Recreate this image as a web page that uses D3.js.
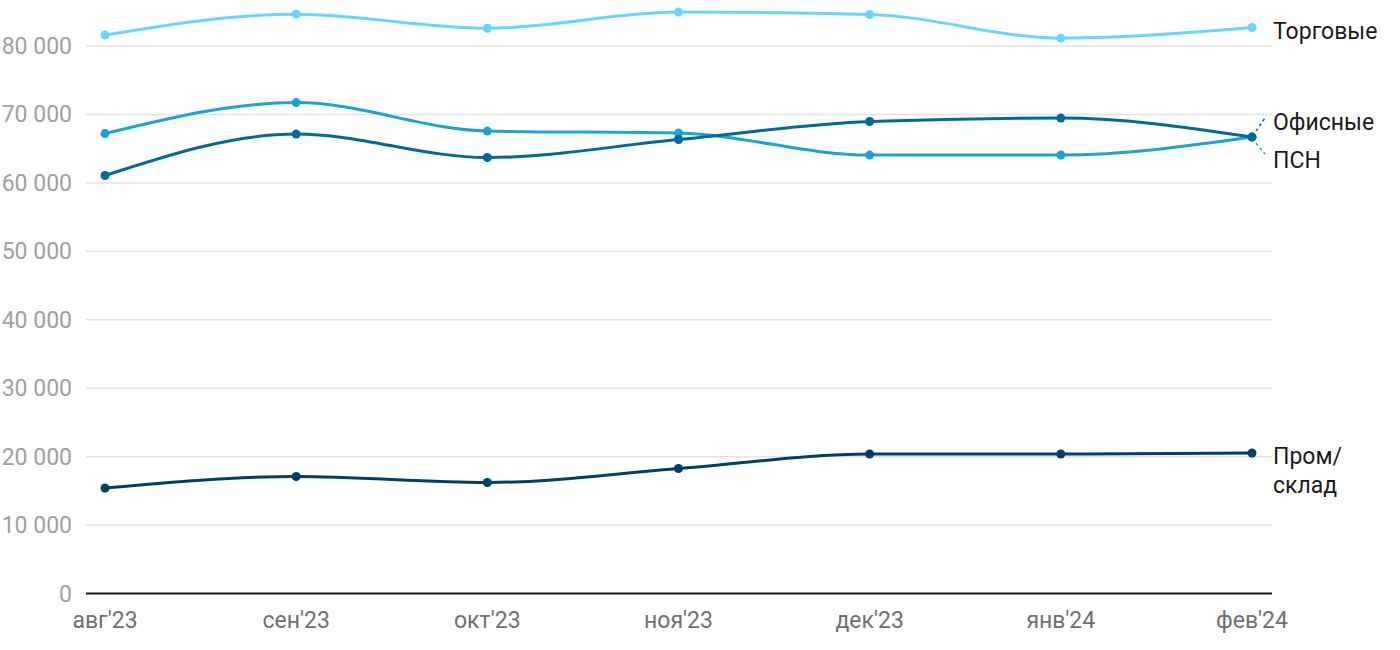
<!DOCTYPE html>
<html><head><meta charset="utf-8">
<script src="https://cdn.jsdelivr.net/npm/d3@7"></script>
<style>body{margin:0;background:#fff;font-family:Roboto,"Noto Sans",sans-serif;}</style>
</head><body><svg id="c" width="1400" height="650"></svg>
<script>
const months = ["авг'23","сен'23","окт'23","ноя'23","дек'23","янв'24","фев'24"];
const torgovye = [81600,84650,82600,84950,84600,81150,82700];
const psn      = [67200,71730,67570,67270,64060,64060,66690];
const ofisnye  = [61070,67130,63700,66330,68960,69470,66690];
const prom     = [15410,17090,16220,18260,20380,20380,20530];
const yTicks = [0,10000,20000,30000,40000,50000,60000,70000,80000];

const series = [
  {name:"Торговые", values:torgovye, color:"#68d5ff"},
  {name:"ПСН", values:psn, color:"#1ba4d0"},
  {name:"Офисные", values:ofisnye, color:"#006b98"},
  {name:"Пром/склад", values:prom, color:"#003f66"}
];

const svg = d3.select("#c");
const x = d3.scalePoint().domain(months).range([105,1252]);
const y = d3.scaleLinear().domain([0,80000]).range([593.5,46]);
const gridL = 86, gridR = 1272;

svg.append("g").selectAll("line").data(yTicks.filter(d=>d>0)).join("line")
  .attr("x1",gridL).attr("x2",gridR).attr("y1",d=>y(d)).attr("y2",d=>y(d))
  .attr("stroke","#e3e3e3").attr("stroke-width",1.5);
const fmt = d => d===0 ? "0" : d3.format(",")(d).replace(/,/g," ");
svg.append("g").selectAll("text").data(yTicks).join("text")
  .attr("x",72).attr("y",d=>y(d)+8).attr("text-anchor","end")
  .attr("fill","#a0a0a0").attr("font-size",23).text(fmt);
svg.append("line").attr("x1",gridL).attr("x2",gridR).attr("y1",y(0)).attr("y2",y(0))
  .attr("stroke","#1a1a1a").attr("stroke-width",2);
svg.append("g").selectAll("text").data(months).join("text")
  .attr("x",d=>x(d)).attr("y",628).attr("text-anchor","middle")
  .attr("fill","#707070").attr("font-size",23).text(d=>d);

const line = d3.line().x((d,i)=>x(months[i])).y(d=>y(d)).curve(d3.curveMonotoneX);
series.forEach(s=>{
  svg.append("path").attr("d",line(s.values)).attr("fill","none")
    .attr("stroke",s.color).attr("stroke-width",3);
  svg.append("g").selectAll("circle").data(s.values).join("circle")
    .attr("cx",(d,i)=>x(months[i])).attr("cy",d=>y(d)).attr("r",4.5).attr("fill",s.color);
});

const lx = 1273;
const lastX = x(months[6]);
const lab = (t,yy)=>svg.append("text").attr("x",lx).attr("y",yy)
  .attr("font-size",23).attr("fill","#1a1a1a").text(t);
lab("Торговые",39);
lab("Офисные",130);
lab("ПСН",168);
lab("Пром/",464);
lab("склад",493);
svg.append("line").attr("x1",lastX+4).attr("y1",y(ofisnye[6])-6).attr("x2",lastX+13).attr("y2",118)
  .attr("stroke","#006b98").attr("stroke-width",1.5).attr("stroke-dasharray","3,3");
svg.append("line").attr("x1",lastX+4).attr("y1",y(psn[6])+6).attr("x2",lastX+13).attr("y2",154)
  .attr("stroke","#1ba4d0").attr("stroke-width",1.5).attr("stroke-dasharray","3,3");
</script></body></html>
